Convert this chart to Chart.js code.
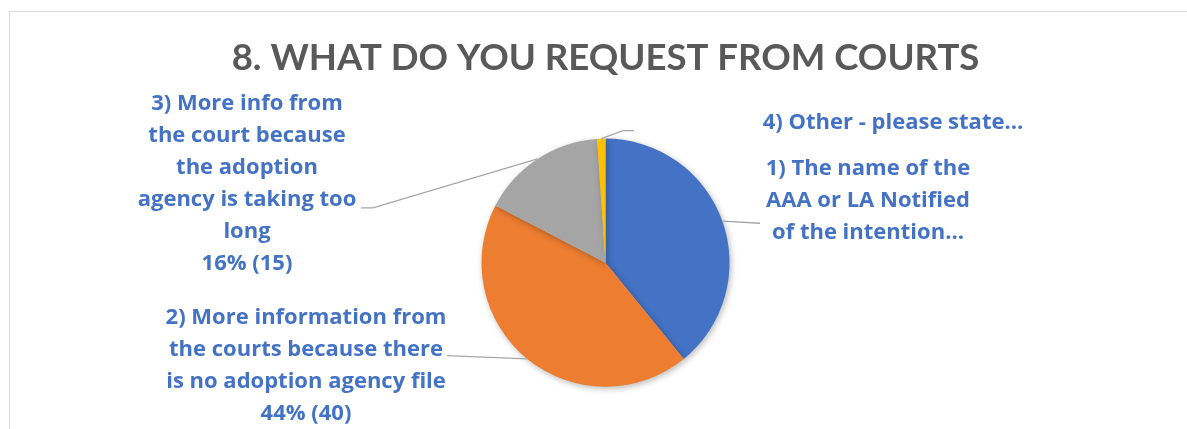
<!DOCTYPE html>
<html>
<head>
<meta charset="utf-8">
<script src="https://cdn.jsdelivr.net/npm/chart.js@4"></script>
<style>
  html, body { margin: 0; padding: 0; background: #ffffff; }
  #wrap { position: relative; width: 1187px; height: 429px; }
</style>
</head>
<body>
<div id="wrap"><canvas id="c" width="1187" height="429"></canvas></div>
<script>
// ---- data ----
const chartTitle = '8. WHAT DO YOU REQUEST FROM COURTS';
const categories = [
  '1) The name of the AAA or LA Notified of the intention…',
  '2) More information from the courts because there is no adoption agency file',
  '3) More info from the court because the adoption agency is taking too long',
  '4) Other - please state…'
];
const responses = [36, 40, 15, 1];
const sliceColors = ['#4472C4', '#ED7D31', '#A5A5A5', '#FFC000'];
// data label text lines as shown on the chart
const labelLines = [
  ['1) The name of the', 'AAA or LA Notified', 'of the intention…'],
  ['2) More information from', 'the courts because there', 'is no adoption agency file', '44% (40)'],
  ['3) More info from', 'the court because', 'the adoption', 'agency is taking too', 'long', '16% (15)'],
  ['4) Other - please state…']
];

// ---- label placement (offsets from pie centre, px) ----
const labelAnchors = [
  { x: 262.5, y: -94.2 },
  { x: -299.5, y: 54.8 },
  { x: -358.5, y: -159.2 },
  { x: 287.5, y: -140.2 }
];
const leaderPaths = [
  [{ x: 154.5, y: -39.4 }],
  [{ x: -158.5, y: 93 }],
  [{ x: -232.5, y: -54.7 }, { x: -244.5, y: -54.7 }],
  [{ x: 17.5, y: -132 }, { x: 28.5, y: -132 }]
];

const frame = {
  id: 'frame',
  beforeDraw(chart) {
    const ctx = chart.ctx;
    ctx.save();
    ctx.strokeStyle = '#D9D9D9';
    ctx.lineWidth = 1;
    ctx.beginPath();
    ctx.moveTo(9.5, 440);
    ctx.lineTo(9.5, 11.5);
    ctx.lineTo(1200, 11.5);
    ctx.stroke();
    ctx.restore();
  }
};

const shadow = {
  id: 'pieShadow',
  beforeDatasetsDraw(chart) {
    const ctx = chart.ctx;
    ctx.save();
    ctx.shadowColor = 'rgba(0,0,0,0.28)';
    ctx.shadowBlur = 6;
    ctx.shadowOffsetX = 1.5;
    ctx.shadowOffsetY = 2;
  },
  afterDatasetsDraw(chart) {
    chart.ctx.restore();
  }
};

const outLabels = {
  id: 'outLabels',
  afterDatasetsDraw(chart) {
    const ctx = chart.ctx;
    const arcs = chart.getDatasetMeta(0).data;
    ctx.save();
    arcs.forEach((arc, i) => {
      const cx = arc.x, cy = arc.y, r = arc.outerRadius;
      const mid = (arc.startAngle + arc.endAngle) / 2;
      const px = cx + Math.cos(mid) * r;
      const py = cy + Math.sin(mid) * r;
      ctx.strokeStyle = '#A6A6A6';
      ctx.lineWidth = 1.3;
      ctx.beginPath();
      ctx.moveTo(px, py);
      leaderPaths[i].forEach(p => ctx.lineTo(cx + p.x, cy + p.y));
      ctx.stroke();

      ctx.fillStyle = '#4472C4';
      ctx.font = 'bold 22px "Open Sans"';
      ctx.textAlign = 'center';
      ctx.textBaseline = 'middle';
      const a = labelAnchors[i];
      labelLines[i].forEach((t, k) => {
        ctx.fillText(t, cx + a.x, cy + a.y + k * 32);
      });
    });
    ctx.restore();
  }
};

new Chart(document.getElementById('c'), {
  type: 'pie',
  data: {
    labels: categories,
    datasets: [{
      data: responses,
      backgroundColor: sliceColors,
      borderWidth: 0,
      hoverOffset: 0
    }]
  },
  options: {
    responsive: false,
    animation: false,
    layout: { padding: { top: 0, bottom: 42.3, left: 24, right: 0 } },
    plugins: {
      legend: { display: false },
      tooltip: { enabled: false },
      title: {
        display: true,
        text: chartTitle,
        color: '#595959',
        font: { family: 'Lato', size: 36.6, weight: 'bold', lineHeight: 1.2 },
        padding: { top: 36, bottom: 58.7 }
      }
    }
  },
  plugins: [frame, shadow, outLabels]
});
</script>
</body>
</html>
